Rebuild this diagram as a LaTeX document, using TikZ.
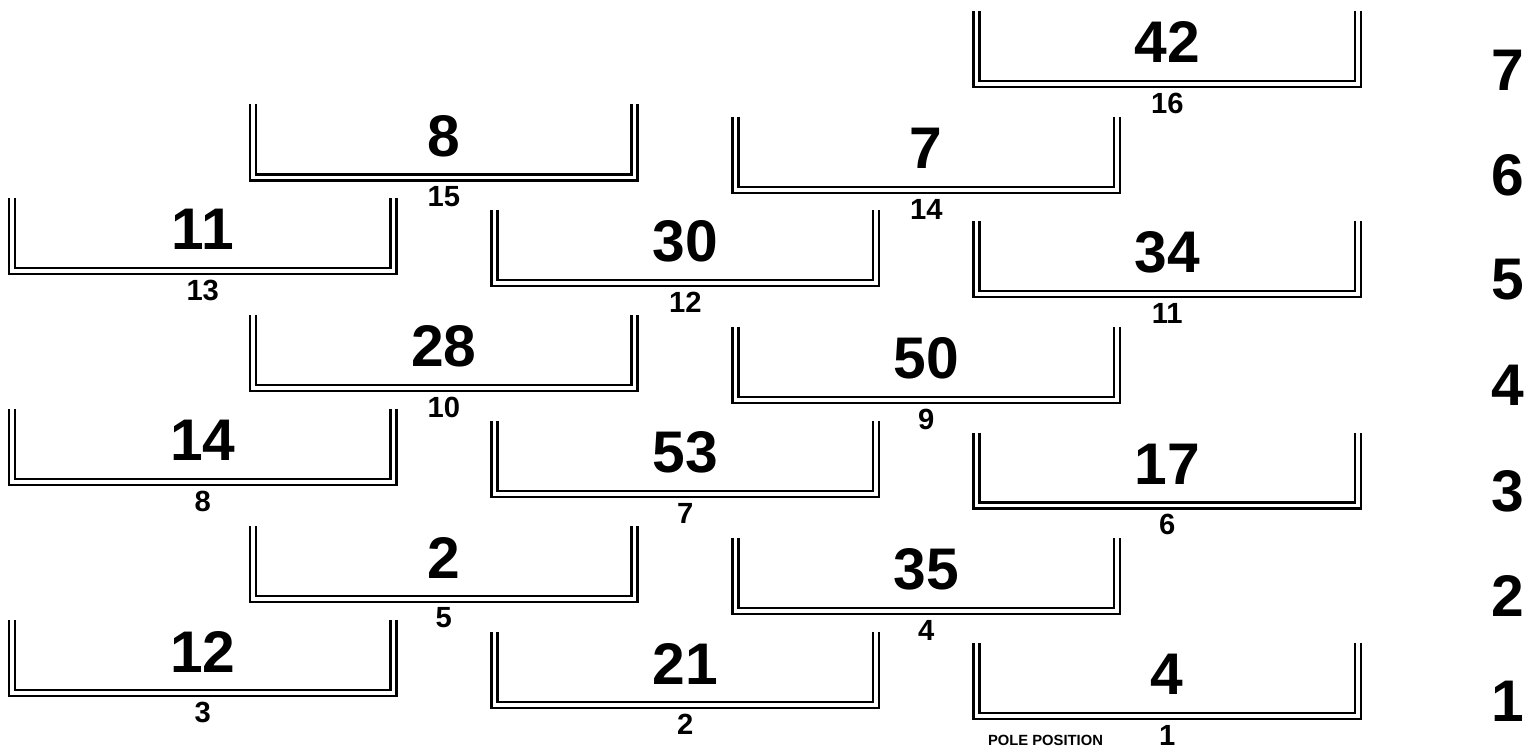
\documentclass[tikz,border=0pt]{standalone}
\usepackage{fontspec}
\setmainfont{Liberation Sans}
\usepackage{tikz}
\usetikzlibrary{positioning}

\begin{document}
\begin{tikzpicture}[
    x=0.01cm, y=-0.01cm, % one unit = one pixel of the grid sheet
    slot/.style={draw=black, line width=0.63pt, double=white, double distance=1.08pt},
    carno/.style={inner sep=0pt, font=\fontsize{16.7}{20}\selectfont\bfseries},
    gridno/.style={inner sep=0pt, font=\fontsize{8.3}{10}\selectfont\bfseries},
    rowno/.style={inner sep=0pt, font=\fontsize{16.7}{20}\selectfont\bfseries},
    polelabel/.style={inner sep=0pt, font=\fontsize{4.2}{5}\selectfont\bfseries}
]
\useasboundingbox (0,0) rectangle (1525,749);

% 1. Outside column
\draw[slot] (12,620) |- (393.5,693) -- (393.5,620);
\node[carno] (car12) at (202.75,651.5) {12};
\node[gridno] (grid3) at (202.75,712) {3};
\draw[slot] (12,409) |- (393.5,482) -- (393.5,409);
\node[carno] (car14) at (202.75,440.5) {14};
\node[gridno] (grid8) at (202.75,501) {8};
\draw[slot] (12,198) |- (393.5,271) -- (393.5,198);
\node[carno] (car11) at (202.75,229.5) {11};
\node[gridno] (grid13) at (202.75,290) {13};

% 2. Second column
\draw[slot] (253,526) |- (634.5,599) -- (634.5,526);
\node[carno] (car2) at (443.75,557.5) {2};
\node[gridno] (grid5) at (443.75,618) {5};
\draw[slot] (253,315) |- (634.5,388) -- (634.5,315);
\node[carno] (car28) at (443.75,346.5) {28};
\node[gridno] (grid10) at (443.75,407) {10};
\draw[slot] (253,104.5) |- (634.5,177.5) -- (634.5,104.5);
\node[carno] (car8) at (443.75,136) {8};
\node[gridno] (grid15) at (443.75,196.5) {15};

% 3. Middle column
\draw[slot] (494.5,632) |- (876,705) -- (876,632);
\node[carno] (car21) at (685.25,663.5) {21};
\node[gridno] (grid2) at (685.25,724) {2};
\draw[slot] (494.5,421) |- (876,494) -- (876,421);
\node[carno] (car53) at (685.25,452.5) {53};
\node[gridno] (grid7) at (685.25,513) {7};
\draw[slot] (494.5,210) |- (876,283) -- (876,210);
\node[carno] (car30) at (685.25,241.5) {30};
\node[gridno] (grid12) at (685.25,302) {12};

% 4. Fourth column
\draw[slot] (735.5,538) |- (1117,611) -- (1117,538);
\node[carno] (car35) at (926.25,569.5) {35};
\node[gridno] (grid4) at (926.25,630) {4};
\draw[slot] (735.5,327) |- (1117,400) -- (1117,327);
\node[carno] (car50) at (926.25,358.5) {50};
\node[gridno] (grid9) at (926.25,419) {9};
\draw[slot] (735.5,117) |- (1117,190) -- (1117,117);
\node[carno] (car7) at (926.25,148.5) {7};
\node[gridno] (grid14) at (926.25,209) {14};

% 5. Inside column (pole side)
\draw[slot] (976.5,643) |- (1358,716) -- (1358,643);
\node[carno] (car4) at (1167.25,674.5) {4};
\node[gridno] (grid1) at (1167.25,735) {1};
\node[polelabel] (pole) at (1045.5,740) {POLE POSITION};
\draw[slot] (976.5,432.5) |- (1358,505.5) -- (1358,432.5);
\node[carno] (car17) at (1167.25,464) {17};
\node[gridno] (grid6) at (1167.25,524.5) {6};
\draw[slot] (976.5,221) |- (1358,294) -- (1358,221);
\node[carno] (car34) at (1167.25,252.5) {34};
\node[gridno] (grid11) at (1167.25,313) {11};
\draw[slot] (976.5,11) |- (1358,84) -- (1358,11);
\node[carno] (car42) at (1167.25,42.5) {42};
\node[gridno] (grid16) at (1167.25,103) {16};

% 6. Row numbers
\node[rowno] (row1) at (1508,701) {1};
\node[rowno] (row2) at (1508,596) {2};
\node[rowno] (row3) at (1508,491) {3};
\node[rowno] (row4) at (1508,385) {4};
\node[rowno] (row5) at (1508,280) {5};
\node[rowno] (row6) at (1508,175) {6};
\node[rowno] (row7) at (1508,70) {7};

\end{tikzpicture}
\end{document}
